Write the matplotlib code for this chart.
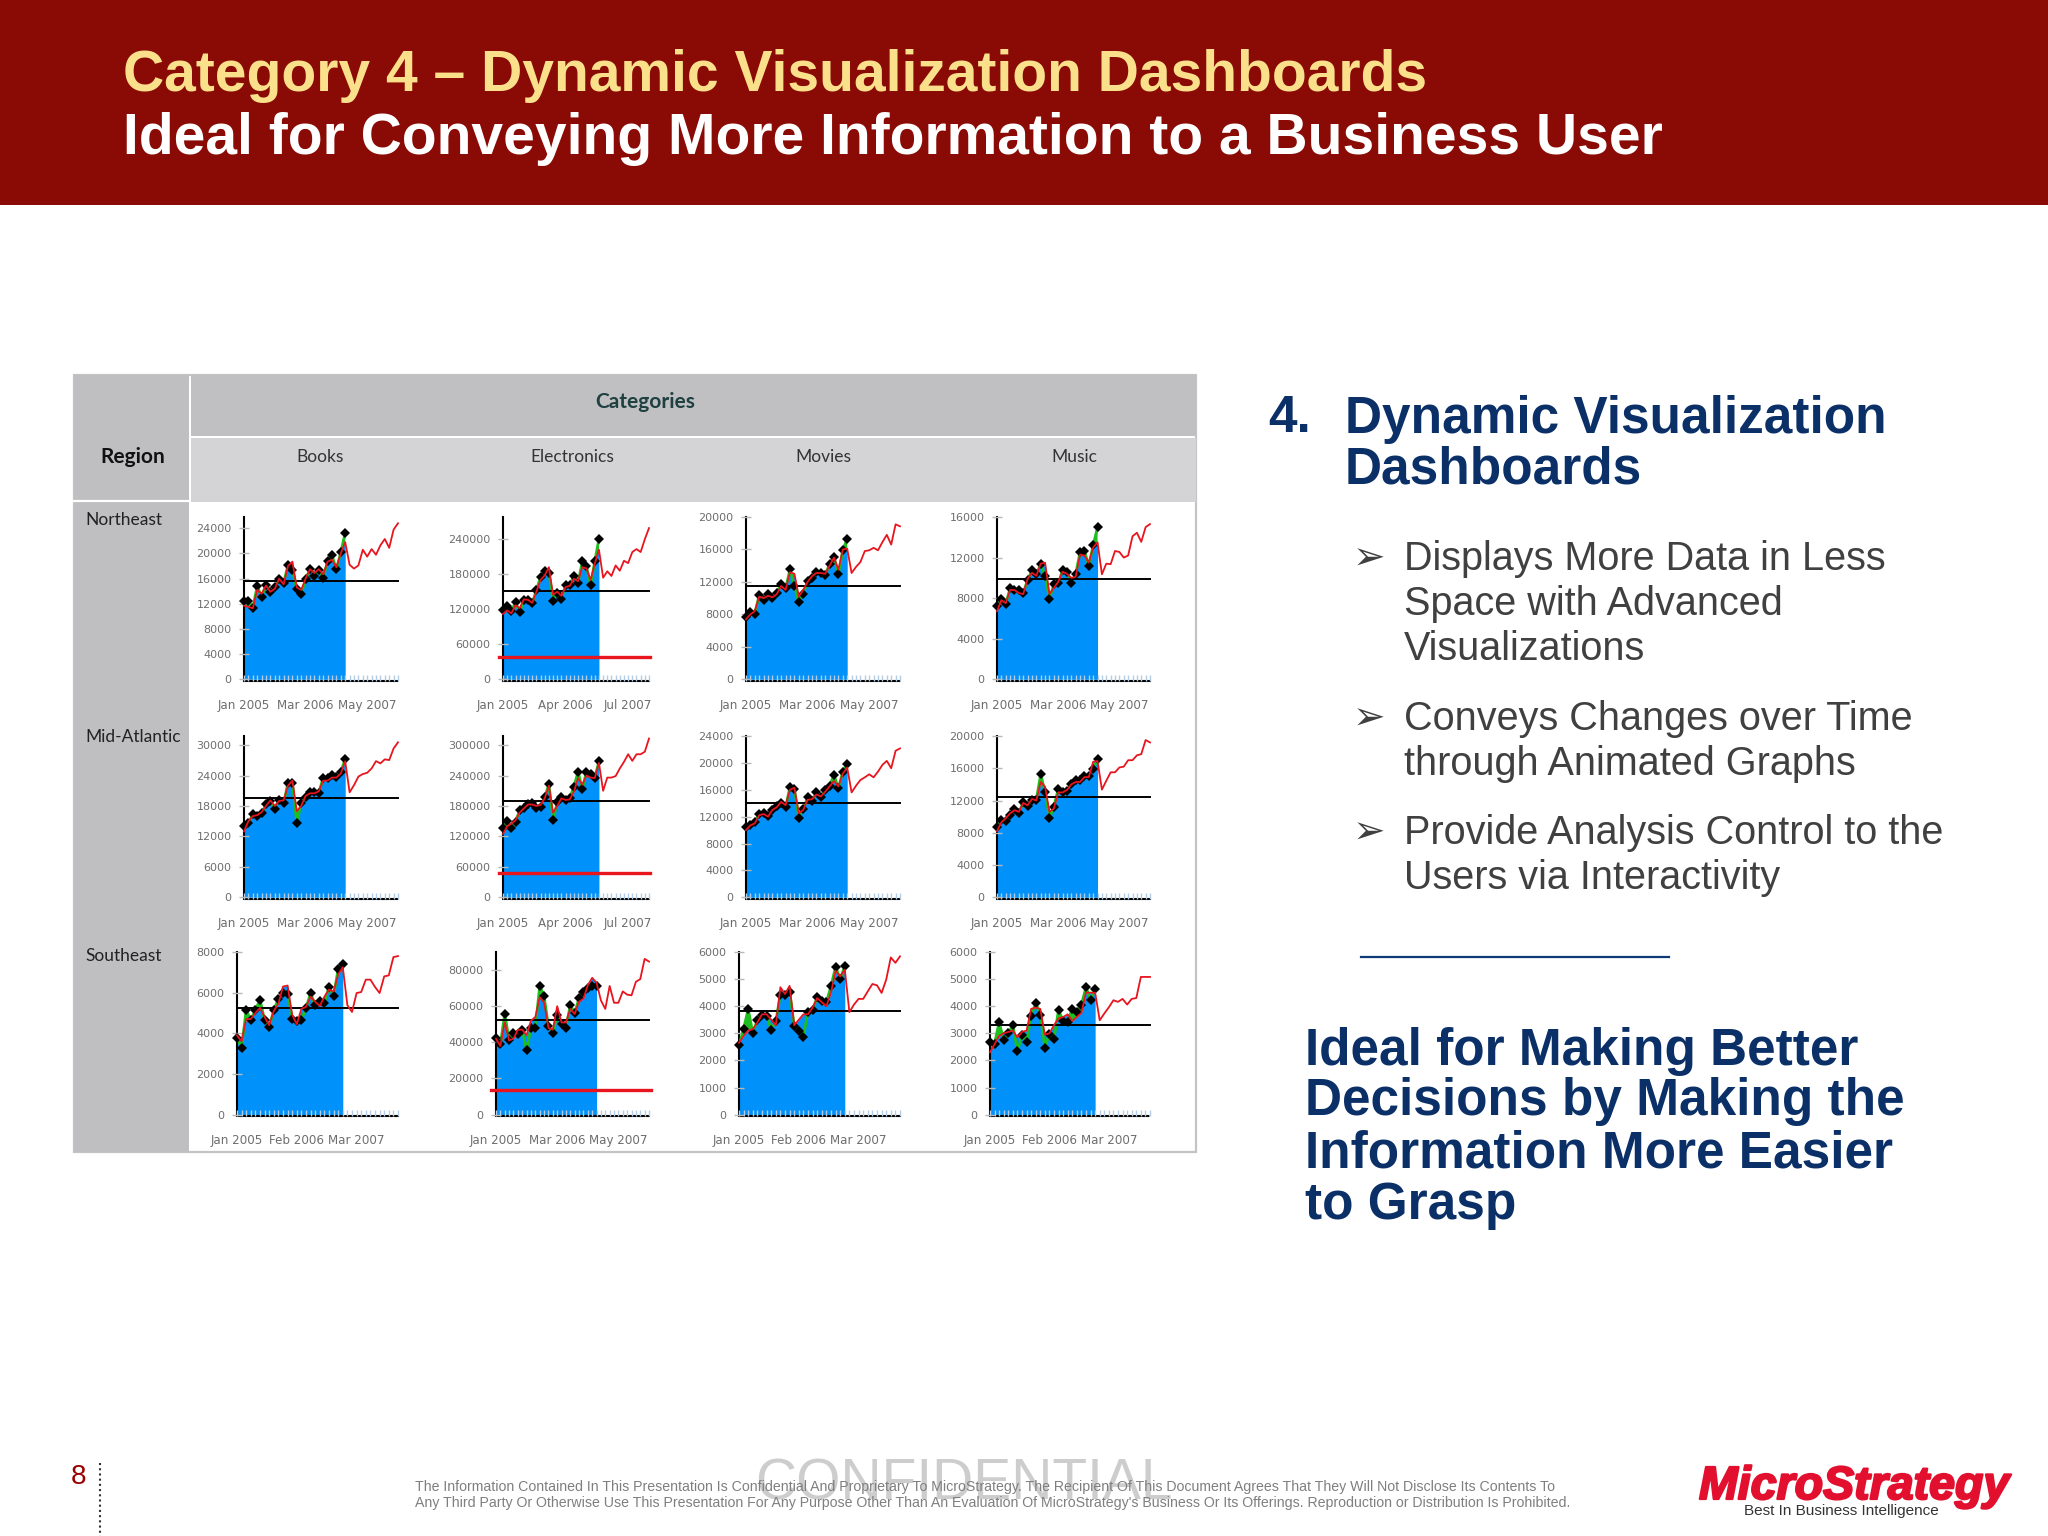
"""Slide with a region x category grid of sparkline-style forecast charts."""

import matplotlib

matplotlib.use("Agg")

import matplotlib.patheffects as pe
import matplotlib.pyplot as plt
from matplotlib.patches import Rectangle

W, H = 2048, 1536
NAVY = "#0B3068"
BLUE = "#0091FB"
GREEN = "#1DBE1D"
RED = "#E8141E"
TICK_GRAY = "#6E6E6E"

CATEGORIES = ["Books", "Electronics", "Movies", "Music"]
REGIONS = ["Northeast", "Mid-Atlantic", "Southeast"]

# 24 months of actuals, 36 months of fit + forecast.
NE_BOOKS_ACTUAL = [12500, 12500, 11400, 14800, 13100, 15000, 13800, 14600, 15900, 15300, 18200, 17300,
                   14300, 13500, 15900, 17500, 16500, 17400, 16100, 18800, 19700, 17500, 20200, 23300]
NE_BOOKS_FIT = [11700, 11500, 11300, 14200, 13600, 14900, 13900, 14400, 16000, 15100, 18000, 18700,
                14600, 14200, 16000, 17500, 16900, 17500, 16700, 18700, 19000, 17800, 20000, 21800,
                18200, 17600, 18100, 20600, 19500, 20700, 19800, 21300, 22300, 20900, 23800, 24800]
NE_ELEC_ACTUAL = [118000, 125000, 117000, 132000, 115000, 135000, 135000, 130000, 153000, 175000, 185000, 182000,
                  134000, 147000, 138000, 161000, 162000, 177000, 165000, 202000, 194000, 161000, 202000, 240000]
NE_ELEC_FIT = [112000, 118000, 113000, 127000, 122000, 137000, 136000, 131000, 150000, 170000, 178000, 192000,
               145000, 150000, 143000, 158000, 160000, 172000, 168000, 192000, 190000, 170000, 198000, 222000,
               174000, 185000, 177000, 195000, 186000, 203000, 199000, 218000, 223000, 218000, 240000, 259000]
NE_MOVIES_ACTUAL = [7700, 8300, 8100, 10400, 9800, 10450, 10000, 10650, 11800, 11200, 13550, 11500,
                    9470, 10500, 12100, 12500, 13200, 13100, 12800, 14250, 15100, 13000, 15900, 17350]
NE_MOVIES_FIT = [7400, 8000, 8400, 10200, 10000, 10300, 10100, 10500, 11500, 11000, 13200, 13000,
                 10200, 11000, 12000, 12700, 13100, 13100, 13000, 14000, 15000, 13500, 16000, 16100,
                 13100, 13850, 14450, 15800, 15900, 16200, 15900, 16900, 17800, 16600, 19100, 18850]
NE_MUSIC_ACTUAL = [7200, 7900, 7400, 9000, 8850, 8850, 8500, 9800, 10750, 10350, 11350, 10150,
                   7950, 9350, 9450, 10750, 10600, 9500, 10350, 12550, 12650, 11200, 13200, 15000]
NE_MUSIC_FIT = [6700, 7800, 7500, 8800, 8800, 8500, 8400, 9900, 10500, 10200, 11400, 11500,
                8400, 9000, 9600, 10600, 10400, 10000, 10100, 12300, 12200, 11500, 13000, 13500,
                10350, 11400, 11350, 12650, 12550, 12000, 12200, 14100, 14450, 13550, 15000, 15300]

MA_BOOKS_ACTUAL = [14000, 14700, 16350, 16100, 16550, 18300, 19000, 17500, 19200, 18500, 22600, 22450,
                   14700, 18500, 19800, 20800, 20800, 20600, 23600, 23600, 24100, 23800, 24750, 27250]
MA_BOOKS_FIT = [13000, 15000, 16000, 16200, 16800, 18000, 19100, 18000, 19000, 19100, 22000, 23000,
                17000, 18000, 20000, 20500, 20500, 20900, 23000, 23000, 23600, 23600, 24400, 26800,
                20700, 22100, 23800, 24300, 24550, 25400, 26850, 26400, 27200, 27050, 29350, 30550]
MA_ELEC_ACTUAL = [136000, 150000, 136000, 149000, 172000, 177000, 184000, 185000, 177000, 179000, 197000, 223000,
                  152000, 187000, 198000, 192000, 196000, 218000, 248000, 213000, 248000, 243000, 236000, 268000]
MA_ELEC_FIT = [125000, 140000, 145000, 152000, 167000, 175000, 183000, 183000, 180000, 182000, 195000, 220000,
               167000, 180000, 195000, 192000, 193000, 208000, 235000, 222000, 240000, 236000, 235000, 265000,
               210000, 236000, 236000, 239000, 254000, 267000, 282000, 269000, 282000, 282000, 287000, 313000]
MA_MOVIES_ACTUAL = [10500, 10750, 11250, 12400, 12600, 12100, 13000, 13600, 14000, 13400, 16450, 16050,
                    11850, 13100, 14900, 14400, 15600, 14900, 15900, 16600, 18200, 16200, 18700, 19900]
MA_MOVIES_FIT = [10000, 10700, 11000, 12200, 12400, 12000, 13000, 13400, 14200, 13700, 16000, 16300,
                 12500, 13000, 14500, 14600, 15300, 15000, 15700, 16500, 17300, 16500, 18400, 19300,
                 15600, 16600, 17450, 17850, 18300, 17850, 18700, 19700, 20300, 19200, 21800, 22150]
MA_MUSIC_ACTUAL = [8700, 9600, 9500, 10150, 10950, 10450, 11800, 11300, 12100, 12100, 15300, 13000,
                   9800, 11250, 13400, 13100, 13200, 14100, 14550, 14550, 15050, 15000, 15950, 17100]
MA_MUSIC_FIT = [8200, 9300, 9800, 10400, 10800, 10600, 11700, 11400, 12200, 12000, 14300, 13700,
                10600, 11000, 13000, 13000, 13300, 14000, 14300, 14300, 14900, 14900, 16800, 16900,
                13350, 14450, 15500, 15500, 16100, 16200, 17000, 17000, 17600, 17750, 19500, 19200]

SE_BOOKS_ACTUAL = [3750, 3300, 5150, 4650, 5150, 5650, 4650, 4300, 5150, 5700, 6000, 5950,
                   4700, 4600, 4650, 5250, 5980, 5380, 5600, 5500, 6300, 5830, 7180, 7430]
SE_BOOKS_FIT = [3900, 3600, 4700, 4700, 5000, 5250, 4800, 4400, 5100, 5450, 6300, 6350,
                4900, 4450, 5200, 5300, 5800, 5550, 5350, 5800, 6150, 6050, 6900, 7250,
                5380, 5050, 5980, 6030, 6640, 6640, 6280, 5980, 6800, 6850, 7750, 7800]
SE_ELEC_ACTUAL = [42600, 38900, 55700, 41300, 44900, 44500, 46700, 35700, 47900, 47900, 71200, 65600,
                  48800, 44900, 55100, 50100, 48200, 60700, 56300, 64500, 67900, 70300, 71200, 71000]
SE_ELEC_FIT = [42000, 38000, 51000, 41000, 42000, 47000, 47000, 44000, 52000, 54000, 65000, 62000,
               48000, 47000, 60000, 51000, 51000, 58500, 55700, 62600, 64100, 71600, 75700, 73000,
               63200, 58500, 71200, 61900, 61900, 68200, 66400, 66000, 73500, 75000, 86200, 84700]
SE_MOVIES_ACTUAL = [2550, 3170, 3900, 3010, 3500, 3670, 3650, 3140, 3440, 4430, 4430, 4530,
                    3280, 3100, 2870, 3790, 3870, 4330, 4180, 4150, 4740, 5450, 5010, 5470]
SE_MOVIES_FIT = [2650, 2900, 3100, 3150, 3400, 3700, 3700, 3500, 3300, 4700, 4450, 4750,
                 3300, 3500, 3700, 3700, 3950, 4300, 4150, 4000, 4500, 5300, 5100, 5350,
                 3780, 4060, 4270, 4270, 4550, 4820, 4770, 4490, 4980, 5800, 5600, 5840]
SE_MUSIC_ACTUAL = [2680, 2620, 3420, 2740, 3010, 3300, 2340, 2920, 2680, 3630, 4120, 3690,
                   2460, 2980, 2790, 3870, 3440, 3420, 3910, 3790, 4060, 4700, 4240, 4650]
SE_MUSIC_FIT = [2300, 2600, 2900, 3000, 3050, 3100, 2850, 3050, 3100, 3900, 3950, 3900,
                2950, 3000, 3300, 3550, 3600, 3700, 3450, 3600, 3750, 4500, 4500, 4500,
                3480, 3730, 3960, 4220, 4160, 4270, 4060, 4270, 4300, 5080, 5080, 5080]

ACTUALS = [NE_BOOKS_ACTUAL, NE_ELEC_ACTUAL, NE_MOVIES_ACTUAL, NE_MUSIC_ACTUAL,
           MA_BOOKS_ACTUAL, MA_ELEC_ACTUAL, MA_MOVIES_ACTUAL, MA_MUSIC_ACTUAL,
           SE_BOOKS_ACTUAL, SE_ELEC_ACTUAL, SE_MOVIES_ACTUAL, SE_MUSIC_ACTUAL]
FITS = [NE_BOOKS_FIT, NE_ELEC_FIT, NE_MOVIES_FIT, NE_MUSIC_FIT,
        MA_BOOKS_FIT, MA_ELEC_FIT, MA_MOVIES_FIT, MA_MUSIC_FIT,
        SE_BOOKS_FIT, SE_ELEC_FIT, SE_MOVIES_FIT, SE_MUSIC_FIT]

MEANS = [15680, 152000, 11500, 9870,
         19500, 189700, 14080, 12400,
         5250, 52500, 3840, 3320]
# Red threshold lines only exist on the Electronics column.
THRESHOLDS = [None, 38600, None, None,
              None, 48600, None, None,
              None, 13600, None, None]

Y_STEPS = [4000, 60000, 4000, 4000,
           6000, 60000, 4000, 4000,
           2000, 20000, 1000, 1000]
Y_MAXES = [24000, 240000, 20000, 16000,
           30000, 300000, 24000, 20000,
           8000, 80000, 6000, 6000]
Y_TOPS = [25800, 278000, 20000, 16000,
          31800, 318000, 24000, 20000,
          8000, 90000, 6000, 6000]

LABELS_MAR = ["Jan 2005", "Mar 2006", "May 2007"]
LABELS_APR = ["Jan 2005", "Apr 2006", "Jul 2007"]
LABELS_FEB = ["Jan 2005", "Feb 2006", "Mar 2007"]
X_LABELS = [LABELS_MAR, LABELS_APR, LABELS_MAR, LABELS_MAR,
            LABELS_MAR, LABELS_APR, LABELS_MAR, LABELS_MAR,
            LABELS_FEB, LABELS_MAR, LABELS_FEB, LABELS_FEB]
X_LABEL_STEPS = [14, 15, 14, 14,
                 14, 15, 14, 14,
                 13, 14, 13, 13]

# Panel boxes in screen pixels, from the reference.
PANEL_LEFT = [244, 503, 746, 997,
              244, 503, 746, 997,
              237, 496, 739, 990]
PANEL_RIGHT = [398, 649, 900, 1150] * 3
ROW_ZERO = [679.3, 897.3, 1114.6]
ROW_TOP = [517, 736, 952]

TITLE_1 = "Category 4 – Dynamic Visualization Dashboards"
TITLE_2 = "Ideal for Conveying More Information to a Business User"
BULLETS = [
    ("Displays More Data in Less", 559, True),
    ("Space with Advanced", 604, False),
    ("Visualizations", 649, False),
    ("Conveys Changes over Time", 719, True),
    ("through Animated Graphs", 764, False),
    ("Provide Analysis Control to the", 833, True),
    ("Users via Interactivity", 878, False),
]
CLOSING = ["Ideal for Making Better", "Decisions by Making the", "Information More Easier", "to Grasp"]
CLOSING_Y = [1051, 1102, 1154, 1206]
FOOTER = [
    "The Information Contained In This Presentation Is Confidential And Proprietary To MicroStrategy. "
    "The Recipient Of This Document Agrees That They Will Not Disclose Its Contents To",
    "Any Third Party Or Otherwise Use This Presentation For Any Purpose Other Than An Evaluation Of "
    "MicroStrategy's Business Or Its Offerings. Reproduction or Distribution Is Prohibited.",
]


def draw_slide(bg):
    """Everything that is not a small chart, on a full-figure pixel axes."""
    bg.set_xlim(0, W)
    bg.set_ylim(H, 0)
    bg.axis("off")

    bg.add_patch(Rectangle((0, 0), W, 205, color="#8A0A05", lw=0))
    bg.text(123, 76, TITLE_1, color="#FBE08C", fontsize=41, fontweight="bold",
            family="Liberation Sans", va="center")
    bg.text(123, 139, TITLE_2, color="white", fontsize=41, fontweight="bold",
            family="Liberation Sans", va="center")

    # table backdrop
    bg.add_patch(Rectangle((74, 375), 1122, 777, facecolor="white", edgecolor="#C4C4C6", lw=1.6))
    bg.add_patch(Rectangle((74, 375), 115, 777, color="#BFBEC0", lw=0))
    bg.add_patch(Rectangle((191, 375), 1005, 61, color="#C0BFC1", lw=0))
    bg.add_patch(Rectangle((191, 438), 1005, 64, color="#D4D3D6", lw=0))
    bg.plot([74, 189], [501, 501], color="white", lw=1.6)

    gill = ["Lato", "DejaVu Sans"]
    bg.text(645, 402, "Categories", color="#1E4040", fontsize=15, fontweight="bold",
            family=gill, ha="center", va="center")
    bg.text(133, 457, "Region", color="#111111", fontsize=15, fontweight="bold",
            family=gill, ha="center", va="center")
    for label, x in zip(CATEGORIES, [320, 572, 823, 1074]):
        bg.text(x, 457, label, color="#333333", fontsize=12.5, family=gill, ha="center", va="center")
    for label, y in zip(REGIONS, [520, 737, 956]):
        bg.text(85, y, label, color="#222222", fontsize=12.5, family=gill, va="center")

    # right hand column
    bg.text(1268, 419, "4.", color=NAVY, fontsize=37, fontweight="bold", family="Liberation Sans", va="center")
    bg.text(1345, 419, "Dynamic Visualization", color=NAVY, fontsize=37, fontweight="bold",
            family="Liberation Sans", va="center")
    bg.text(1345, 470, "Dashboards", color=NAVY, fontsize=37, fontweight="bold",
            family="Liberation Sans", va="center")
    for line, y, has_bullet in BULLETS:
        bg.text(1404, y, line, color="#404040", fontsize=28.5, family="Liberation Sans", va="center")
        if has_bullet:
            bg.text(1369, y, "➢", color="#404040", fontsize=28, family="DejaVu Sans", ha="center", va="center")
    bg.plot([1361, 1669], [957, 957], color="#0F3A78", lw=1.6)
    for line, y in zip(CLOSING, CLOSING_Y):
        bg.text(1305, y, line, color=NAVY, fontsize=37, fontweight="bold", family="Liberation Sans", va="center")

    # footer
    bg.text(79, 1477, "8", color="#990000", fontsize=20, family="Liberation Sans", ha="center", va="center")
    bg.plot([100, 100], [1463, 1536], color="#333333", lw=1.5, ls=(0, (1, 1.5)))
    bg.text(755, 1485, "CONFIDENTIAL", color="#CDCDCD", fontsize=41, family="Liberation Sans", va="center")
    bg.text(415, 1487, FOOTER[0], color="#7F7F7F", fontsize=10.2, family="Liberation Sans", va="center")
    bg.text(415, 1503, FOOTER[1], color="#7F7F7F", fontsize=10.2, family="Liberation Sans", va="center")
    bg.text(1699, 1487, "MicroStrategy", color="#E2102E", fontsize=33.5, fontweight="bold", style="italic",
            family="Liberation Sans", va="center",
            path_effects=[pe.withStroke(linewidth=1.6, foreground="#E2102E")])
    bg.text(1841, 1511, "Best In Business Intelligence", color="#333333", fontsize=11,
            family="Liberation Sans", ha="center", va="center")


def draw_panel(fig, idx):
    row = idx // 4
    left, right = PANEL_LEFT[idx], PANEL_RIGHT[idx]
    zero, top = ROW_ZERO[row], ROW_TOP[row]
    ax = fig.add_axes([left / W, 1 - zero / H, (right - left) / W, (zero - top) / H], facecolor="none")

    actual, fit = ACTUALS[idx], FITS[idx]
    x_actual = list(range(len(actual)))
    x_fit = list(range(len(fit)))
    fit_past = fit[: len(actual)]

    ax.fill_between(x_actual, 0, fit_past, color=BLUE, lw=0, zorder=1)
    ax.fill_between(x_actual, fit_past, actual, where=[a > f for a, f in zip(actual, fit_past)],
                    interpolate=True, color=GREEN, lw=0, zorder=2)
    ax.plot(x_actual, actual, color=GREEN, lw=2, zorder=3)
    ax.axhline(MEANS[idx], color="black", lw=1.4, zorder=4, clip_on=False)
    if THRESHOLDS[idx] is not None:
        ax.plot([-0.03, 1.01], [THRESHOLDS[idx]] * 2, transform=ax.get_yaxis_transform(),
                color=RED, lw=2.4, zorder=4, clip_on=False)
    ax.plot(x_actual, actual, ls="none", marker="D", ms=4.8, color="black", mew=0, zorder=5, clip_on=False)
    ax.plot(x_fit, fit, color=RED, lw=1.3, zorder=6, clip_on=False)

    ax.set_xlim(0, 35)
    ax.set_ylim(0, Y_TOPS[idx])
    ax.set_yticks(list(range(0, Y_MAXES[idx] + 1, Y_STEPS[idx])))
    ax.set_xticks([0, X_LABEL_STEPS[idx], 2 * X_LABEL_STEPS[idx]], X_LABELS[idx])
    ax.set_xticks(x_fit, minor=True)

    ax.tick_params(axis="y", direction="inout", length=7, width=1, color="#B8B8B8", pad=5.5,
                   labelsize=8, labelcolor=TICK_GRAY)
    ax.tick_params(axis="x", which="both", direction="in", length=4.5, width=1, color="#B5CDE4", pad=13,
                   labelsize=8.6, labelcolor=TICK_GRAY)
    ax.set_axisbelow(False)

    ax.spines[["top", "right"]].set_visible(False)
    ax.spines["left"].set_linewidth(1.5)
    ax.spines["bottom"].set_position(("outward", 1))
    ax.spines["bottom"].set_linewidth(1.5)
    ax.spines["bottom"].set_linestyle((0, (1.6, 0.8)))


def main():
    fig = plt.figure(figsize=(W / 100, H / 100), dpi=100, facecolor="white")
    draw_slide(fig.add_axes([0, 0, 1, 1]))
    for idx in range(len(ACTUALS)):
        draw_panel(fig, idx)
    fig.savefig("out.png", dpi=100)
    plt.close(fig)


if __name__ == "__main__":
    main()
